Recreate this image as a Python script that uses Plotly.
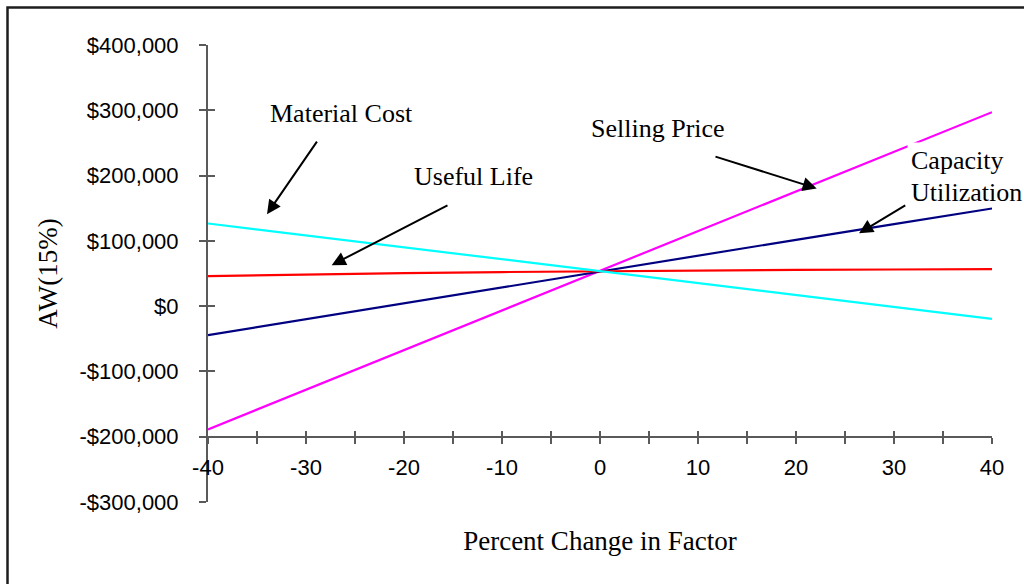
import plotly.graph_objects as go

# Sensitivity of AW(15%) to a percent change in each factor
pct_change = [-40, -30, -20, -10, 0, 10, 20, 30, 40]

selling_price = [-188800, -128200, -67700, -7000, 53600, 114500, 175400, 236200, 297100]
capacity_utilization = [-44400, -19900, 4600, 29100, 53600, 77600, 101600, 125600, 149600]
useful_life = [45900, 48500, 50500, 52200, 53600, 54600, 55400, 56100, 56700]
material_cost = [126600, 108300, 90100, 71900, 53600, 35400, 17100, -1200, -19400]

y_tick_vals = [400000, 300000, 200000, 100000, 0, -100000, -200000, -300000]
y_tick_text = ["$400,000", "$300,000", "$200,000", "$100,000", "$0",
               "-$100,000", "-$200,000", "-$300,000"]
x_tick_vals = [-40, -30, -20, -10, 0, 10, 20, 30, 40]
x_tick_text = ["-40", "-30", "-20", "-10", "0", "10", "20", "30", "40"]

Y_MIN, Y_MAX = -300000, 400000
X_CROSS = -200000  # where the horizontal axis crosses the vertical one

SANS = "Liberation Sans, Arial, sans-serif"
SERIF = "Liberation Serif, Times New Roman, serif"
AXIS_COLOR = "#5a5a5a"

series = [
    ("Selling Price", selling_price, "#FF00FF"),
    ("Capacity Utilization", capacity_utilization, "#000080"),
    ("Useful Life", useful_life, "#FF0000"),
    ("Material Cost", material_cost, "#00FFFF"),
]

fig = go.Figure()
for name, vals, color in series:
    fig.add_trace(go.Scatter(
        x=pct_change, y=vals, mode="lines", name=name,
        line=dict(color=color, width=2.2),
        hoverinfo="x+y+name",
    ))

# invisible trace so the overlay axes (inner half of the crossing ticks) render
fig.add_trace(go.Scatter(x=[pct_change[0]], y=[Y_MIN], xaxis="x2", yaxis="y2",
                         mode="markers", marker=dict(opacity=0), hoverinfo="skip",
                         showlegend=False))

cross_pos = (X_CROSS - Y_MIN) / (Y_MAX - Y_MIN)

fig.update_layout(
    width=1024, height=584,
    margin=dict(l=208, r=32, t=45, b=82),
    paper_bgcolor="white", plot_bgcolor="white",
    showlegend=False,
    xaxis=dict(
        range=[-40, 40], anchor="free", position=cross_pos,
        tickvals=x_tick_vals, ticktext=x_tick_text,
        ticks="outside", ticklen=6, tickwidth=1.5, tickcolor=AXIS_COLOR,
        minor=dict(dtick=5, tick0=-40, ticks="outside", ticklen=6,
                   tickwidth=1.5, tickcolor=AXIS_COLOR),
        showline=True, linecolor=AXIS_COLOR, linewidth=2,
        showgrid=False, zeroline=False,
        tickfont=dict(family=SANS, size=22, color="black"),
        ticklabelstandoff=5,
        title=dict(text="Percent Change in Factor",
                   font=dict(family=SERIF, size=27, color="black"),
                   standoff=51),
    ),
    xaxis2=dict(
        range=[-40, 40], overlaying="x", anchor="free", position=cross_pos,
        dtick=5, tick0=-40, ticks="inside", ticklen=6, tickwidth=1.5,
        tickcolor=AXIS_COLOR, showticklabels=False, showline=False,
        showgrid=False, zeroline=False,
    ),
    yaxis=dict(
        range=[Y_MIN, Y_MAX], anchor="x",
        tickvals=y_tick_vals, ticktext=y_tick_text,
        ticks="outside", ticklen=7, tickwidth=1.5, tickcolor=AXIS_COLOR,
        showline=True, linecolor=AXIS_COLOR, linewidth=2,
        showgrid=False, zeroline=False,
        tickfont=dict(family=SANS, size=22, color="black"),
        ticklabelstandoff=16,
        title=dict(text="AW(15%)",
                   font=dict(family=SERIF, size=27, color="black"),
                   standoff=14),
    ),
    yaxis2=dict(
        range=[Y_MIN, Y_MAX], overlaying="y", anchor="x", side="left",
        tickvals=y_tick_vals, ticks="inside", ticklen=7, tickwidth=1.5,
        tickcolor=AXIS_COLOR, showticklabels=False, showline=False,
        showgrid=False, zeroline=False,
    ),
)

# frame around the chart (open to the right and bottom edges of the page)
fig.add_shape(type="rect", xref="paper", yref="paper",
              x0=(7.5 - 208) / 784, x1=1.08, y0=-0.25, y1=1 + (45 - 7.5) / 457,
              line=dict(color="#1e1e1e", width=2.5), layer="above")

label_font = dict(family=SERIF, size=26, color="black")

# factor labels: text, x, y, anchor, background, padding
labels = [
    ("Material Cost", -26.33, 295600, "center", "rgba(0,0,0,0)", 0),
    ("Useful Life", -12.91, 199100, "center", "rgba(0,0,0,0)", 0),
    ("Selling Price", 5.89, 272600, "center", "rgba(0,0,0,0)", 0),
    ("Capacity", 31.33, 223600, "left", "white", 3),
    ("Utilization", 31.63, 174600, "left", "rgba(0,0,0,0)", 0),
]
for text, x, y, anchor, bg, pad in labels:
    fig.add_annotation(x=x, y=y, xref="x", yref="y", text=text, showarrow=False,
                       xanchor=anchor, yanchor="middle", align="left",
                       font=label_font, bgcolor=bg, borderpad=pad)

# pointer arrows: (tail x, tail y) -> (head x, head y)
arrows = [
    (-28.78, 254200, -33.98, 140900),
    (-15.41, 155700, -27.38, 62800),
    (11.63, 229700, 22.11, 180200),
    (31.30, 155700, 26.43, 111800),
]
for tx, ty, hx, hy in arrows:
    fig.add_annotation(x=hx, y=hy, ax=tx, ay=ty, xref="x", yref="y",
                       axref="x", ayref="y", text="", showarrow=True,
                       arrowhead=2, arrowsize=1.4, arrowwidth=2,
                       arrowcolor="black", standoff=0, startstandoff=0)

fig.write_html("out.html")
